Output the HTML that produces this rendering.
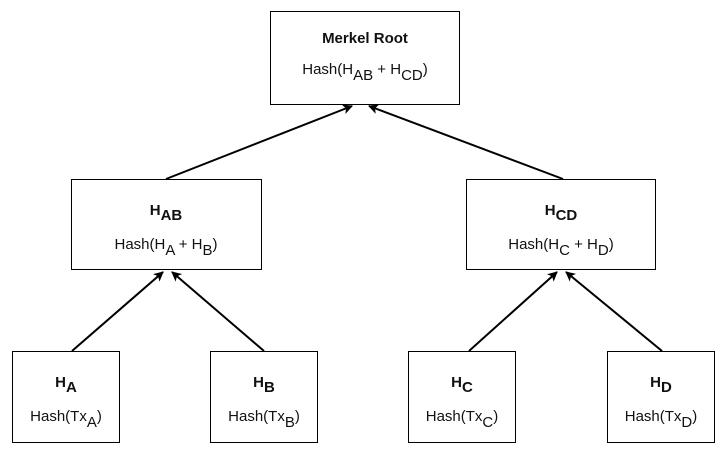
<!DOCTYPE html>
<html><head><meta charset="utf-8"><style>
body{margin:0;background:#fff;}
svg{display:block;font-family:"Liberation Sans",Arial,sans-serif;}
</style></head><body>
<svg width="726" height="454" viewBox="0 0 726 454">
<defs><marker id="ah" markerWidth="10" markerHeight="10" refX="9" refY="5" orient="auto" markerUnits="userSpaceOnUse"><path d="M0,0 L10,5 L0,10 L2.5,5 z" fill="#000"/></marker></defs>
<g stroke="#000" stroke-width="2" fill="none">
<line x1="72" y1="351" x2="163" y2="272" marker-end="url(#ah)"/>
<line x1="264" y1="351" x2="172" y2="272" marker-end="url(#ah)"/>
<line x1="469" y1="351" x2="557" y2="272" marker-end="url(#ah)"/>
<line x1="662" y1="351" x2="566" y2="272" marker-end="url(#ah)"/>
<line x1="166" y1="179" x2="352" y2="106" marker-end="url(#ah)"/>
<line x1="563" y1="179" x2="369" y2="106" marker-end="url(#ah)"/>
</g>
<g fill="#fff" stroke="#000" stroke-width="1">
<rect x="270.5" y="11.5" width="189" height="93"/>
<rect x="71.5" y="179.5" width="190" height="90"/>
<rect x="466.5" y="179.5" width="189" height="90"/>
<rect x="12.5" y="351.5" width="107" height="91"/>
<rect x="210.5" y="351.5" width="107" height="91"/>
<rect x="408.5" y="351.5" width="107" height="91"/>
<rect x="607.5" y="351.5" width="107" height="91"/>
</g>
<g text-anchor="middle" fill="#111" font-size="15">
<text x="365" y="43" font-weight="bold">Merkel Root</text>
<text x="365" y="74">Hash(H<tspan dy="6">AB</tspan><tspan dy="-6"> + H</tspan><tspan dy="6">CD</tspan><tspan dy="-6">)</tspan></text>
<text x="166" y="215" font-weight="bold">H<tspan dy="5">AB</tspan></text>
<text x="166" y="249">Hash(H<tspan dy="6">A</tspan><tspan dy="-6"> + H</tspan><tspan dy="6">B</tspan><tspan dy="-6">)</tspan></text>
<text x="561" y="215" font-weight="bold">H<tspan dy="5">CD</tspan></text>
<text x="561" y="249">Hash(H<tspan dy="6">C</tspan><tspan dy="-6"> + H</tspan><tspan dy="6">D</tspan><tspan dy="-6">)</tspan></text>
<text x="66" y="387" font-weight="bold">H<tspan dy="5">A</tspan></text>
<text x="66" y="421">Hash(Tx<tspan dy="6">A</tspan><tspan dy="-6">)</tspan></text>
<text x="264" y="387" font-weight="bold">H<tspan dy="5">B</tspan></text>
<text x="264" y="421">Hash(Tx<tspan dy="6">B</tspan><tspan dy="-6">)</tspan></text>
<text x="462" y="387" font-weight="bold">H<tspan dy="5">C</tspan></text>
<text x="462" y="421">Hash(Tx<tspan dy="6">C</tspan><tspan dy="-6">)</tspan></text>
<text x="661" y="387" font-weight="bold">H<tspan dy="5">D</tspan></text>
<text x="661" y="421">Hash(Tx<tspan dy="6">D</tspan><tspan dy="-6">)</tspan></text>
</g>
</svg>
</body></html>
